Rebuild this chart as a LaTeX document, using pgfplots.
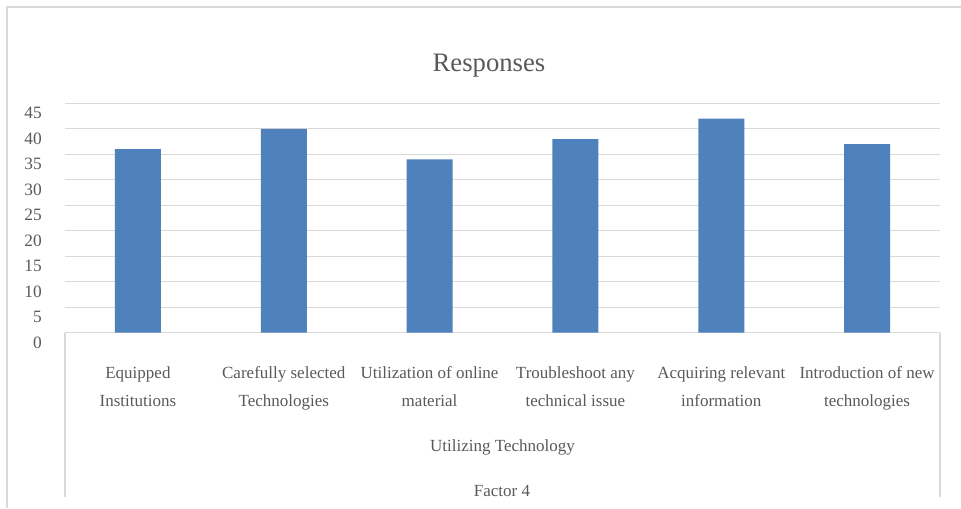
\documentclass[border=0pt]{standalone}
\usepackage{fontspec}
\setmainfont{Liberation Serif}
\usepackage{pgfplots}
\pgfplotsset{compat=1.18}
\definecolor{barblue}{HTML}{4F81BD}
\definecolor{txt}{HTML}{595959}
\definecolor{gridc}{HTML}{D9D9D9}
\begin{document}
\begin{tikzpicture}
\useasboundingbox (0pt,0pt) rectangle (720.75pt,381pt);
\draw[gridc, line width=1.1pt] (5.25pt,0pt) -- (5.25pt,375.75pt) -- (720.75pt,375.75pt);
\begin{axis}[
  at={(48.75pt,131.5pt)}, anchor=south west,
  scale only axis, width=656.25pt, height=172pt,
  xmin=-0.5, xmax=5.5, ymin=0, ymax=45,
  ytick={0,5,...,45},
  xtick={0,1,2,3,4,5},
  xticklabels={{Equipped\\Institutions},{Carefully selected\\Technologies},{Utilization of online\\material},{Troubleshoot any\\technical issue},{Acquiring relevant\\information},{Introduction of new\\technologies}},
  axis line style={draw=none},
  ymajorgrids,
  major grid style={gridc, line width=0.9pt},
  major tick length=0pt,
  /pgf/number format/assume math mode=true,
  xticklabel style={font=\fontsize{12.75}{20.8}\selectfont, text=txt, align=center, anchor=base, yshift=-55pt, inner sep=0pt},
  yticklabel style={font=\fontsize{13}{15}\selectfont, text=txt, anchor=base east, inner sep=0pt, xshift=-17.25pt, yshift=-11.5pt},
  clip=false,
]
\addplot[ybar, bar width=34.5pt, fill=barblue, draw=none] coordinates {(0,36) (1,40) (2,34) (3,38) (4,42) (5,37)};
\end{axis}
\draw[gridc, line width=1.1pt] (48.75pt,131.5pt) -- (48.75pt,8.25pt);
\draw[gridc, line width=1.1pt] (705.1pt,131.5pt) -- (705.1pt,8.25pt);
\node[anchor=base, text=txt, font=\fontsize{20}{24}\selectfont, inner sep=0pt] at (366.75pt,327.2pt) {Responses};
\node[anchor=base, text=txt, font=\fontsize{12.75}{15}\selectfont, inner sep=0pt] at (376.9pt,42.75pt) {Utilizing Technology};
\node[anchor=base, text=txt, font=\fontsize{12.75}{15}\selectfont, inner sep=0pt] at (376.5pt,9pt) {Factor 4};
\end{tikzpicture}
\end{document}
